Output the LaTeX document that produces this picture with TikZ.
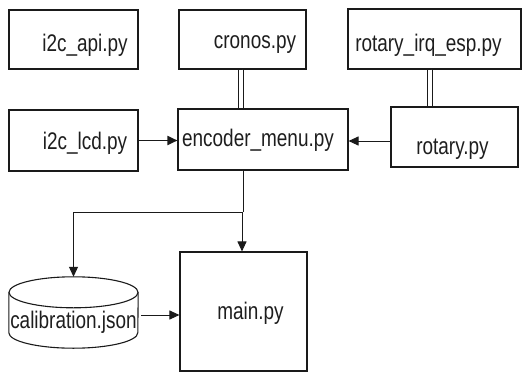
\documentclass[tikz,border=0pt]{standalone}
\usepackage{fontspec}
\setmainfont{Liberation Sans}[FakeStretch=0.79]
\usetikzlibrary{arrows.meta}
\definecolor{linec}{HTML}{1A1A1A}
\definecolor{textc}{HTML}{1E1E1E}

\begin{document}
\begin{tikzpicture}[x=1pt,y=-1pt,
  font=\fontsize{24}{28}\selectfont,
  box/.style={draw=linec, line width=1.1pt, inner sep=0pt},
  lbl/.style={text=textc, inner sep=0pt},
  arr/.style={draw=linec, line width=1pt, -{Triangle[length=10pt,width=9pt]}},
  dbl/.style={draw=linec, line width=0.9pt, double, double distance=3.6pt}]
  \useasboundingbox (0,0) rectangle (522,372);

  % top row
  \node[box, minimum width=129pt, minimum height=59pt,
    label={[lbl,xshift=11.5pt,yshift=-5.5pt]center:i2c\_api.py}] (api) at (73.5,39.5) {};
  \node[box, minimum width=127pt, minimum height=59pt,
    label={[lbl,xshift=12.5pt,yshift=-5.5pt]center:cronos.py}] (cronos) at (242.5,39.5) {};
  \node[box, minimum width=173pt, minimum height=60pt,
    label={[lbl,xshift=-6pt,yshift=-6pt]center:rotary\_irq\_esp.py}] (rotirq) at (434.5,39) {};

  % middle row
  \node[box, minimum width=129pt, minimum height=61pt,
    label={[lbl,xshift=11.5pt,yshift=-2.5pt]center:i2c\_lcd.py}] (lcd) at (73.5,140.5) {};
  \node[box, minimum width=170pt, minimum height=61pt,
    label={[lbl,xshift=-5pt,yshift=-0.5pt]center:encoder\_menu.py}] (enc) at (263,139.5) {};
  \node[box, minimum width=127pt, minimum height=60pt,
    label={[lbl,xshift=-2pt,yshift=-12pt]center:rotary.py}] (rot) at (454.5,137) {};

  % bottom row
  \node[lbl, minimum width=129pt, minimum height=71pt,
    label={[lbl,yshift=-9.5pt]center:calibration.json}] (calib) at (73.5,312.5) {};
  \draw[box] ([yshift=-15.5pt]calib.north west) -- ([yshift=15.5pt]calib.south west)
    arc[start angle=180, end angle=360, x radius=64.5pt, y radius=15.5pt]
    -- ([yshift=-15.5pt]calib.north east);
  \draw[box] ([yshift=-15.5pt]calib.north) ellipse [x radius=64.5pt, y radius=15.5pt];
  \node[box, minimum width=127pt, minimum height=119pt,
    label={[lbl,xshift=7pt,yshift=-1.5pt]center:main.py}] (main) at (243.5,311.5) {};

  \coordinate (split) at (242,212);

  \draw[dbl] ([xshift=-1.5pt]cronos.south) -- ([xshift=-1.5pt]cronos.south |- enc.north);
  \draw[dbl] ([xshift=-4.5pt]rotirq.south) -- ([xshift=-4.5pt]rotirq.south |- rot.north);
  \draw[arr, line width=1.8pt] (lcd.east) -- (lcd.east -| enc.west);
  \draw[arr] ([yshift=-4pt]rot.west) -- ([yshift=-4pt]rot.west -| enc.east);
  \draw[dbl, double distance=1.2pt] (enc.south -| split) -- (split);
  \draw[arr] (split) -- (split |- main.north);
  \draw[arr] (split) -| (calib.north);
  \draw[arr] ([xshift=3pt,yshift=-2.5pt]calib.east) -- ([yshift=-2.5pt]calib.east -| main.west);
\end{tikzpicture}
\end{document}
